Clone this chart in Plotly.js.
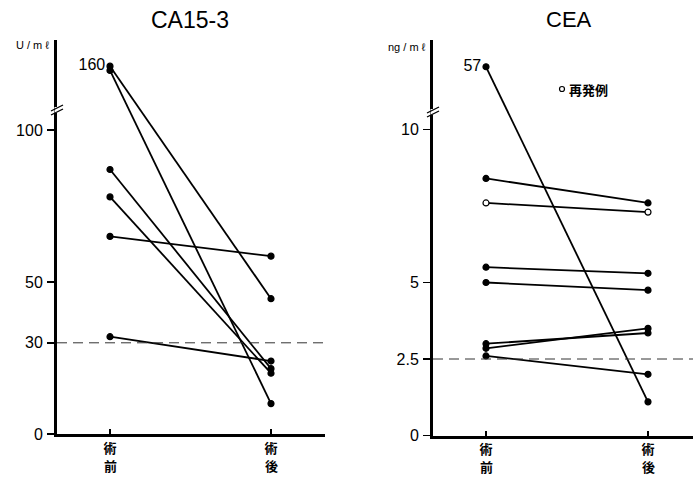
<!DOCTYPE html>
<html>
<head>
<meta charset="utf-8">
<script src="https://cdn.plot.ly/plotly-3.0.1.min.js"></script>
<style>html,body{margin:0;padding:0;background:#fff;}#chart{width:693px;height:477px;}</style>
</head>
<body>
<div id="chart"></div>
<script>
// ---- data ----
const stageLabels = ['術前', '術後'];
const caTitle = 'CA15-3';
const caUnit = 'U / m ℓ';
const caPre  = [160, 155, 87, 78, 65, 32];
const caPost = [44.5, 10, 21.5, 20, 58.5, 24];
const caTicks = [0, 30, 50, 100];
const caCutoff = 30;

const ceaTitle = 'CEA';
const ceaUnit = 'ng / m ℓ';
const ceaPre  = [57, 8.4, 7.6, 5.5, 5.0, 3.0, 2.85, 2.6];
const ceaPost = [1.1, 7.6, 7.3, 5.3, 4.75, 3.35, 3.5, 2.0];
const ceaRelapse = [false, false, true, false, false, false, false, false];
const ceaTicks = [0, 2.5, 5, 10];
const ceaCutoff = 2.5;
const legendText = '再発例';

// ---- broken-axis scales ----
function makeBreak(at, top, topPos) {
  const k = (topPos - at) / (top - at);
  return v => v <= at ? v : at + (v - at) * k;
}
const caScale = makeBreak(106, 160, 121);
const ceaScale = makeBreak(10.6, 57, 12.05);

const W = 693, H = 477;
const px = x => x / W, py = y => 1 - y / H;

const traces = [];
function addPairs(pre, post, scale, xa, ya, relapse) {
  const maxV = Math.max(...pre, ...post);
  pre.forEach((p, i) => {
    const open = relapse && relapse[i];
    traces.push({
      type: 'scatter', mode: 'lines+markers+text',
      x: [0, 1], y: [scale(p), scale(post[i])],
      text: [p === maxV ? String(p) : '', post[i] === maxV ? String(post[i]) : ''],
      textposition: 'middle left',
      textfont: {family: 'Liberation Sans, Arial, sans-serif', size: 16, color: '#000'},
      xaxis: xa, yaxis: ya,
      line: {color: '#000', width: 1.8},
      marker: {size: 6, color: open ? '#fff' : '#000', line: {color: '#000', width: 1.2}},
      cliponaxis: false, showlegend: false, hoverinfo: 'skip'
    });
  });
}
addPairs(caPre, caPost, caScale, 'x', 'y', null);
addPairs(ceaPre, ceaPost, ceaScale, 'x2', 'y2', ceaRelapse);

const numFont = {family: 'Liberation Sans, Arial, sans-serif', size: 16, color: '#000'};
const cjkFont = {family: 'Noto Sans CJK JP, sans-serif', size: 13, color: '#000', weight: 'bold'};

function xAxis(d0, d1, p0, p1, anchor) {
  const s = p1 - p0;
  return {
    domain: [px(d0), px(d1)], anchor: anchor,
    range: [-(p0 - d0) / s, 1 + (d1 - p1) / s],
    showline: true, linewidth: 3, linecolor: '#000',
    ticks: 'inside', ticklen: 5, tickwidth: 1.2, tickcolor: '#000',
    tickvals: [0, 1], ticktext: stageLabels.map(s => s[0]), tickfont: cjkFont,
    ticklabelstandoff: 0,
    showgrid: false, zeroline: false, fixedrange: true
  };
}
function yAxis(bottomPx, topPx, zeroPx, unitPx, ticks, anchor) {
  return {
    domain: [py(bottomPx), py(topPx)], anchor: anchor,
    range: [0, (zeroPx - topPx) / unitPx],
    showline: true, linewidth: 3, linecolor: '#000',
    ticks: 'outside', ticklen: 7, tickwidth: 1.5, tickcolor: '#000',
    tickvals: ticks, ticktext: ticks.map(String), tickfont: numFont,
    ticklabelstandoff: 1,
    showgrid: false, zeroline: false, fixedrange: true
  };
}

function breakShapes(ax, ay) {
  return [
    {type: 'line', xref: 'paper', yref: 'paper', x0: px(ax), x1: px(ax), y0: py(ay - 3), y1: py(ay + 3), line: {color: '#fff', width: 5}},
    {type: 'line', xref: 'paper', yref: 'paper', x0: px(ax - 6), x1: px(ax + 6), y0: py(ay + 1), y1: py(ay - 5), line: {color: '#000', width: 1.3}},
    {type: 'line', xref: 'paper', yref: 'paper', x0: px(ax - 6), x1: px(ax + 6), y0: py(ay + 5), y1: py(ay - 1), line: {color: '#000', width: 1.3}}
  ];
}

const txt = (text, x, y, xanchor, font) => ({
  text, xref: 'paper', yref: 'paper', x: px(x), y: py(y), xanchor, yanchor: 'middle', showarrow: false, font
});
const latin = (size) => ({family: 'Liberation Sans, Arial, sans-serif', size, color: '#000'});

// second character of each stage label, stacked under the tick label
const secondChars = [];
[['x', 465], ['x2', 466.5]].forEach(([xa, yPix]) => {
  stageLabels.forEach((s, i) => {
    secondChars.push({text: s[1], xref: xa, yref: 'paper', x: i, y: py(yPix), xanchor: 'center', yanchor: 'middle', showarrow: false, font: cjkFont});
  });
});

const layout = {
  width: W, height: H,
  margin: {l: 0, r: 0, t: 0, b: 0},
  paper_bgcolor: '#fff', plot_bgcolor: 'rgba(0,0,0,0)',
  showlegend: false,
  xaxis: xAxis(57, 325, 110, 271, 'y'),
  yaxis: yAxis(434, 40, 434, 3.04, caTicks, 'x'),
  xaxis2: xAxis(433, 693, 486, 648, 'y2'),
  yaxis2: yAxis(435.5, 40, 435.5, 30.6, ceaTicks, 'x2'),
  shapes: [
    {type: 'line', xref: 'x domain', yref: 'y', x0: 0, x1: 1, y0: caCutoff, y1: caCutoff, line: {color: '#333', width: 1, dash: '10px,6px'}},
    {type: 'line', xref: 'x2 domain', yref: 'y2', x0: 0, x1: 1, y0: ceaCutoff, y1: ceaCutoff, line: {color: '#333', width: 1, dash: '10px,6px'}},
    ...breakShapes(57, 110),
    ...breakShapes(433, 112),
    {type: 'circle', xref: 'paper', yref: 'paper', x0: px(559.5), x1: px(564.5), y0: py(86.5), y1: py(91.5), line: {color: '#000', width: 1.2}, fillcolor: '#fff'}
  ],
  annotations: [
    txt(caTitle, 190, 20, 'center', latin(23)),
    txt(ceaTitle, 569, 20, 'center', latin(22)),
    txt(caUnit, 51, 45, 'right', latin(11)),
    txt(ceaUnit, 428, 47, 'right', latin(11)),
    txt(legendText, 567, 89, 'left', {family: 'Noto Sans CJK JP, sans-serif', size: 13, color: '#000', weight: 'bold'}),
    ...secondChars
  ]
};

Plotly.newPlot('chart', traces, layout, {staticPlot: true, displayModeBar: false});
</script>
</body>
</html>
